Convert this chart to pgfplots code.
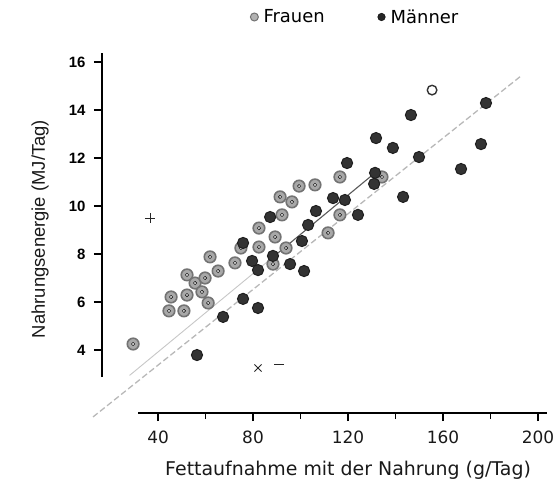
\documentclass[border=0pt]{standalone}
\usepackage{pgfplots}
\pgfplotsset{compat=1.18}
\usepackage{pgfplotstable}
\usepackage{fontspec}
\setmainfont{DejaVu Sans}
\newfontfamily\arialfont{Liberation Sans}

\pgfplotstableread{
x y
29.5 4.25
44.6 5.63
50.9 5.63
45.5 6.21
52.2 6.29
52.2 7.13
55.6 6.79
58.5 6.42
59.8 7.00
61.1 5.96
61.9 7.88
65.3 7.29
72.4 7.63
74.9 8.25
82.5 8.29
82.5 9.08
89.3 8.71
88.4 7.58
92.2 9.63
91.4 10.38
96.4 10.17
93.9 8.25
99.4 10.83
106.1 10.88
111.6 8.88
116.6 11.21
134.3 11.21
116.6 9.63
}\frauen

\pgfplotstableread{
x y
56.4 3.79
67.4 5.38
75.8 6.13
82.1 5.75
75.8 8.46
79.6 7.71
82.1 7.33
88.4 7.92
87.2 9.54
95.6 7.58
100.6 8.54
101.5 7.29
103.2 9.21
106.5 9.79
113.7 10.33
118.7 10.25
124.2 9.63
119.6 11.79
131.4 11.38
131.0 10.92
131.8 12.83
138.9 12.42
143.2 10.38
149.9 12.04
146.5 13.79
167.6 11.54
176.0 12.58
178.1 14.29
}\maenner

\begin{document}
\begin{tikzpicture}
\useasboundingbox (-102bp,-75bp) rectangle (458bp,413bp);
\begin{axis}[
  at={(0,0)}, anchor=south west,
  scale only axis, width=445bp, height=360bp,
  xmin=16.4, xmax=203.8, ymin=1.375, ymax=16.375,
  axis x line=bottom, axis y line=left,
  axis line style={draw=none},
  xtick={40,80,...,200}, minor xtick={60,100,140,180},
  ytick={4,6,...,16},
  tick align=outside,
  major tick length=8bp, minor tick length=6bp,
  tick style={black, line width=1.3bp},
  clip=false,
  /pgf/number format/assume math mode=true,
  xticklabel style={font=\fontsize{17}{17}\selectfont, text=black!90, yshift=-6bp},
  yticklabel style={font=\arialfont\bfseries\fontsize{15}{15}\selectfont, xshift=-5bp},
  xlabel={Fettaufnahme mit der Nahrung (g/Tag)},
  ylabel={Nahrungsenergie (MJ/Tag)},
  every axis x label/.style={at={(axis description cs:0.553,-0.160)}, anchor=center, font=\fontsize{19}{19}\selectfont, text=black!90},
  every axis y label/.style={at={(axis description cs:-0.139,0.511)}, anchor=center, rotate=90, font=\arialfont\fontsize{18.5}{18.5}\selectfont, text=black!90},
  legend style={at={(axis description cs:0.333,1.10)}, anchor=west, draw=none, fill=none,
    font=\fontsize{18}{18}\selectfont, inner sep=0pt,
    /tikz/every even column/.append style={column sep=50bp},
    nodes={inner sep=3bp}},
  legend columns=2,
  legend image code/.code={\draw[#1] plot coordinates {(0bp,0bp)} node[right=0bp, inner sep=0pt, minimum width=6bp] {};},
]
% regression lines
\addplot[black!28, line width=1.3bp, dash pattern=on 6bp off 3bp, forget plot] coordinates {(12.6,1.21) (193,15.43)};
\addplot[black!22, line width=0.9bp, forget plot] coordinates {(28,2.94) (90,8.00)};
\addplot[black!65, line width=1.1bp, forget plot] coordinates {(90,8.00) (131,11.35)};

% Frauen
\addplot[only marks, mark=*, mark size=5.8bp, mark options={fill=black!34, draw=black!55, line width=1.6bp}, forget plot] table {\frauen};
\addplot[only marks, mark=*, mark size=1.7bp, mark options={fill=black!16, draw=none}, forget plot] table {\frauen};
\addplot[only marks, mark=*, mark size=4.8bp, mark options={fill=white, draw=black!80, line width=1.4bp}, forget plot] coordinates {(155.4,14.83)};
% Maenner
\addplot[only marks, mark=*, mark size=5.6bp, mark options={fill=black!80, draw=black!88, line width=1bp}, forget plot] table {\maenner};

% handwritten marks
\addplot[only marks, mark=+, mark size=5bp, black!85, line width=0.8bp, forget plot] coordinates {(36.6,9.5)};
\addplot[only marks, mark=x, mark size=5bp, black!85, line width=0.8bp, forget plot] coordinates {(82.1,3.25)};
\addplot[only marks, mark=-, mark size=5bp, black!85, line width=0.8bp, forget plot] coordinates {(91,3.42)};

% legend
\addlegendimage{only marks, mark=*, mark size=4bp, mark options={fill=black!30, draw=black!55, line width=1bp}}
\addlegendentry{Frauen}
\addlegendimage{only marks, mark=*, mark size=3.8bp, mark options={fill=black!85, draw=black}}
\addlegendentry{Männer}

% axis lines
\draw[black, line width=2bp] (axis cs:16.4,2.875) -- (axis cs:16.4,16.375);
\draw[black, line width=2bp] (axis cs:31.58,1.375) -- (axis cs:203.8,1.375);
\end{axis}
\end{tikzpicture}
\end{document}
